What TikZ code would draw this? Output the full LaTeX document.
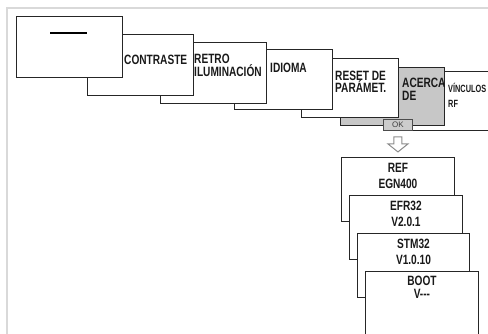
\documentclass[tikz,border=0pt]{standalone}
\usepackage{fontspec}
\setmainfont{Liberation Sans}
\newfontfamily\condfont{Liberation Sans}[FakeStretch=0.75]
\newfontfamily\narrowfont{Liberation Sans}[FakeStretch=0.7]
\usepackage{xcolor}
\usetikzlibrary{positioning,calc}

\begin{document}
\begin{tikzpicture}[x=1pt,y=-1pt,
  card/.style 2 args={draw=black!85,fill=white,line width=0.9pt,anchor=north west,inner sep=0pt,minimum width=#1pt,minimum height=#2pt},
  lbl/.style={anchor=base west,inner sep=0pt,text=black!90,font=\condfont\bfseries\fontsize{13.5}{14}\selectfont},
  small/.style={lbl,font=\narrowfont\bfseries\fontsize{10.5}{11}\selectfont},
  ctr/.style={lbl,anchor=base}]
  \clip (0,0) rectangle (488,333);
  \draw[black!15,line width=2pt] (7,334) -- (7,8) -- (489,8);
  % menu row, front card drawn last
  \node[card={110}{59}](vin) at (395,71){};
  \node[card={104}{58},fill=black!22](ace) at (340,67){};
  \node[card={97}{59}](res) at (301,58){};
  \node[card={98}{60}](idi) at (234,49){};
  \node[card={106}{61}](ret) at (160,42){};
  \node[card={106}{61}](con) at (87,34){};
  \node[card={106}{61}](dis) at (16,16){};
  \node[inner sep=0pt](dash) at (68.5,33){\rule{37pt}{1.1pt}};
  \node[lbl](tcon) at (124,64){CONTRASTE};
  \node[lbl](tret1) at (194,63){RETRO};
  \node[lbl](tret2) at (194,76){ILUMINACIÓN};
  \node[lbl](tidi) at (270,72){IDIOMA};
  \node[lbl](tres1) at (335,80){RESET DE};
  \node[lbl](tres2) at (335,92){PARÁMET.};
  \node[lbl](tace1) at (402,87){ACERCA};
  \node[lbl](tace2) at (402,100){DE};
  \node[small](tvin1) at (448,92){VÍNCULOS};
  \node[small](tvin2) at (448,107){RF};
  \node[card={29}{11},fill=black!20,draw=black!70,font=\fontsize{8}{8}\selectfont,text=black!75](ok) at (383,119){OK};
  % hollow arrow below OK
  \draw[draw=black!45,fill=white,line width=1pt]
    ($(ok.south)+(-4,6)$) -- ++(8,0) -- ++(0,7) -- ++(6,0) -- ++(-10,8) -- ++(-10,-8) -- ++(6,0) -- cycle;
  % info cards, last one in front
  \node[card={113}{64}](ref) at (341,157){};
  \node[ctr](tref1) at ($(ref.north)+(0,15)$){REF};
  \node[ctr](tref2) at ($(ref.north)+(0,31)$){EGN400};
  \node[card={113}{64}](efr) at (349,195){};
  \node[ctr](tefr1) at ($(efr.north)+(0,15)$){EFR32};
  \node[ctr](tefr2) at ($(efr.north)+(0,31)$){V2.0.1};
  \node[card={112}{64}](stm) at (357,233){};
  \node[ctr](tstm1) at ($(stm.north)+(0,15)$){STM32};
  \node[ctr](tstm2) at ($(stm.north)+(0,31)$){V1.0.10};
  \node[card={113}{72}](boot) at (365,271){};
  \node[ctr](tboot1) at ($(boot.north)+(0,14)$){BOOT};
  \node[ctr](tboot2) at ($(boot.north)+(0,27)$){V---};
\end{tikzpicture}
\end{document}
